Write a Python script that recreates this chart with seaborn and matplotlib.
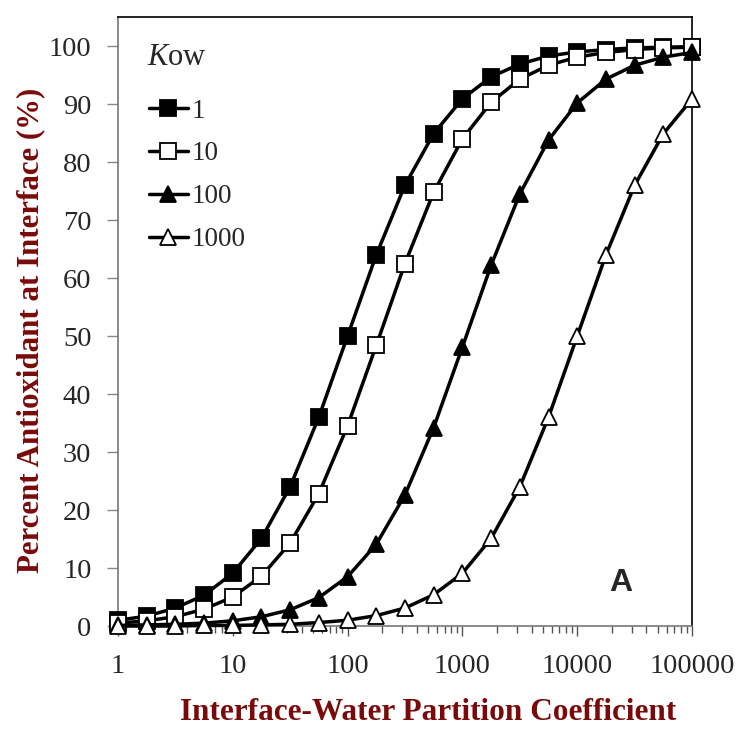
import numpy as np
import pandas as pd
import seaborn as sns
import matplotlib.pyplot as plt
from matplotlib.ticker import FixedLocator, FixedFormatter, LogLocator, NullFormatter

# interface-water partition coefficient (quarter-decade steps)
partition = [1, 1.78, 3.16, 5.62, 10, 17.8, 31.6, 56.2, 100, 178, 316, 562,
             1000, 1778, 3162, 5623, 10000, 17783, 31623, 56234, 100000]

# percent antioxidant at interface, one list per Kow
kow_1 = [1.0, 1.7, 3.1, 5.3, 9.1, 15.1, 24.0, 36.0, 50.0, 64.0, 76.0, 84.9,
         90.9, 94.7, 96.9, 98.3, 99.0, 99.4, 99.7, 99.8, 99.9]
kow_10 = [0.5, 0.9, 1.6, 2.9, 5.0, 8.6, 14.3, 22.8, 34.5, 48.4, 62.5, 74.8,
          84.0, 90.3, 94.3, 96.7, 98.1, 98.9, 99.4, 99.7, 99.8]
kow_100 = [0.1, 0.2, 0.3, 0.5, 0.9, 1.6, 2.8, 4.9, 8.5, 14.1, 22.6, 34.2,
           48.1, 62.2, 74.5, 83.8, 90.2, 94.3, 96.7, 98.1, 98.9]
kow_1000 = [0.0, 0.0, 0.0, 0.1, 0.1, 0.2, 0.3, 0.6, 1.0, 1.8, 3.1, 5.4,
            9.1, 15.1, 24.0, 36.0, 50.0, 64.0, 76.0, 84.9, 90.9]

kow_labels = ['1', '10', '100', '1000']
x_ticks = [1, 10, 100, 1000, 10000, 100000]
x_ticklabels = ['1', '10', '100', '1000', '10000', '100000']
y_ticks = list(range(0, 101, 10))

sns.set_style('white')
plt.rcParams['font.family'] = ['Liberation Serif', 'DejaVu Serif']
plt.rcParams['mathtext.fontset'] = 'custom'
plt.rcParams['mathtext.it'] = 'Liberation Serif:italic'
plt.rcParams['mathtext.rm'] = 'Liberation Serif'

dark_red = '#7a0a0a'

fig = plt.figure(figsize=(7.41, 7.31), dpi=100)
ax = fig.add_axes([0.159, 0.1436, 0.775, 0.833])

series = [kow_1, kow_10, kow_100, kow_1000]
markers = ['s', 's', '^', '^']
faces = ['black', 'white', 'black', 'white']

for vals, lab, m, fc in zip(series, kow_labels, markers, faces):
    sns.lineplot(x=partition, y=vals, ax=ax, color='black', linewidth=2.5,
                 marker=m, markersize=11 if m == 's' else 12,
                 markerfacecolor=fc, markeredgecolor='black',
                 markeredgewidth=1.3, label=lab, clip_on=False, zorder=3)

ax.set_xscale('log')
ax.set_xlim(1, 100000)
ax.set_ylim(0, 105)

ax.xaxis.set_major_locator(FixedLocator(x_ticks))
ax.xaxis.set_major_formatter(FixedFormatter(x_ticklabels))
ax.xaxis.set_minor_locator(LogLocator(base=10, subs=np.arange(2, 10)))
ax.xaxis.set_minor_formatter(NullFormatter())
ax.set_yticks(y_ticks)

ax.tick_params(axis='x', which='major', direction='out', length=7, width=1,
               color='#555555', labelsize=20.5, pad=13, bottom=True)
ax.tick_params(axis='x', which='minor', direction='out', length=5, width=1,
               color='#555555', bottom=True)
ax.tick_params(axis='y', which='major', direction='out', length=8, width=1,
               color='#888888', labelsize=20.5, pad=11, left=True)

for side in ['top', 'right']:
    ax.spines[side].set_color('black')
    ax.spines[side].set_linewidth(1.2)
for side in ['left', 'bottom']:
    ax.spines[side].set_color('#777777')
    ax.spines[side].set_linewidth(1.2)

ax.set_xlabel('Interface-Water Partition Coefficient', fontsize=22.5,
              fontweight='bold', color=dark_red)
ax.set_ylabel('Percent Antioxidant at Interface (%)', fontsize=22.2,
              fontweight='bold', color=dark_red)
ax.xaxis.set_label_coords(0.54, -0.119)
ax.yaxis.set_label_coords(-0.126, 0.486)

leg = ax.legend(loc='upper left', bbox_to_anchor=(0.035, 0.884),
                frameon=False, fontsize=19.5, handlelength=1.45,
                handletextpad=0.15, labelspacing=0.66, borderaxespad=0)
ax.text(0.05, 0.934, '$\\mathit{K}$ow', transform=ax.transAxes, fontsize=22,
        ha='left', va='center')

ax.text(0.875, 0.07, 'A', transform=ax.transAxes, fontsize=23,
        fontweight='bold', family='Liberation Sans', ha='center', va='center')

fig.savefig('out.png', dpi=100)
